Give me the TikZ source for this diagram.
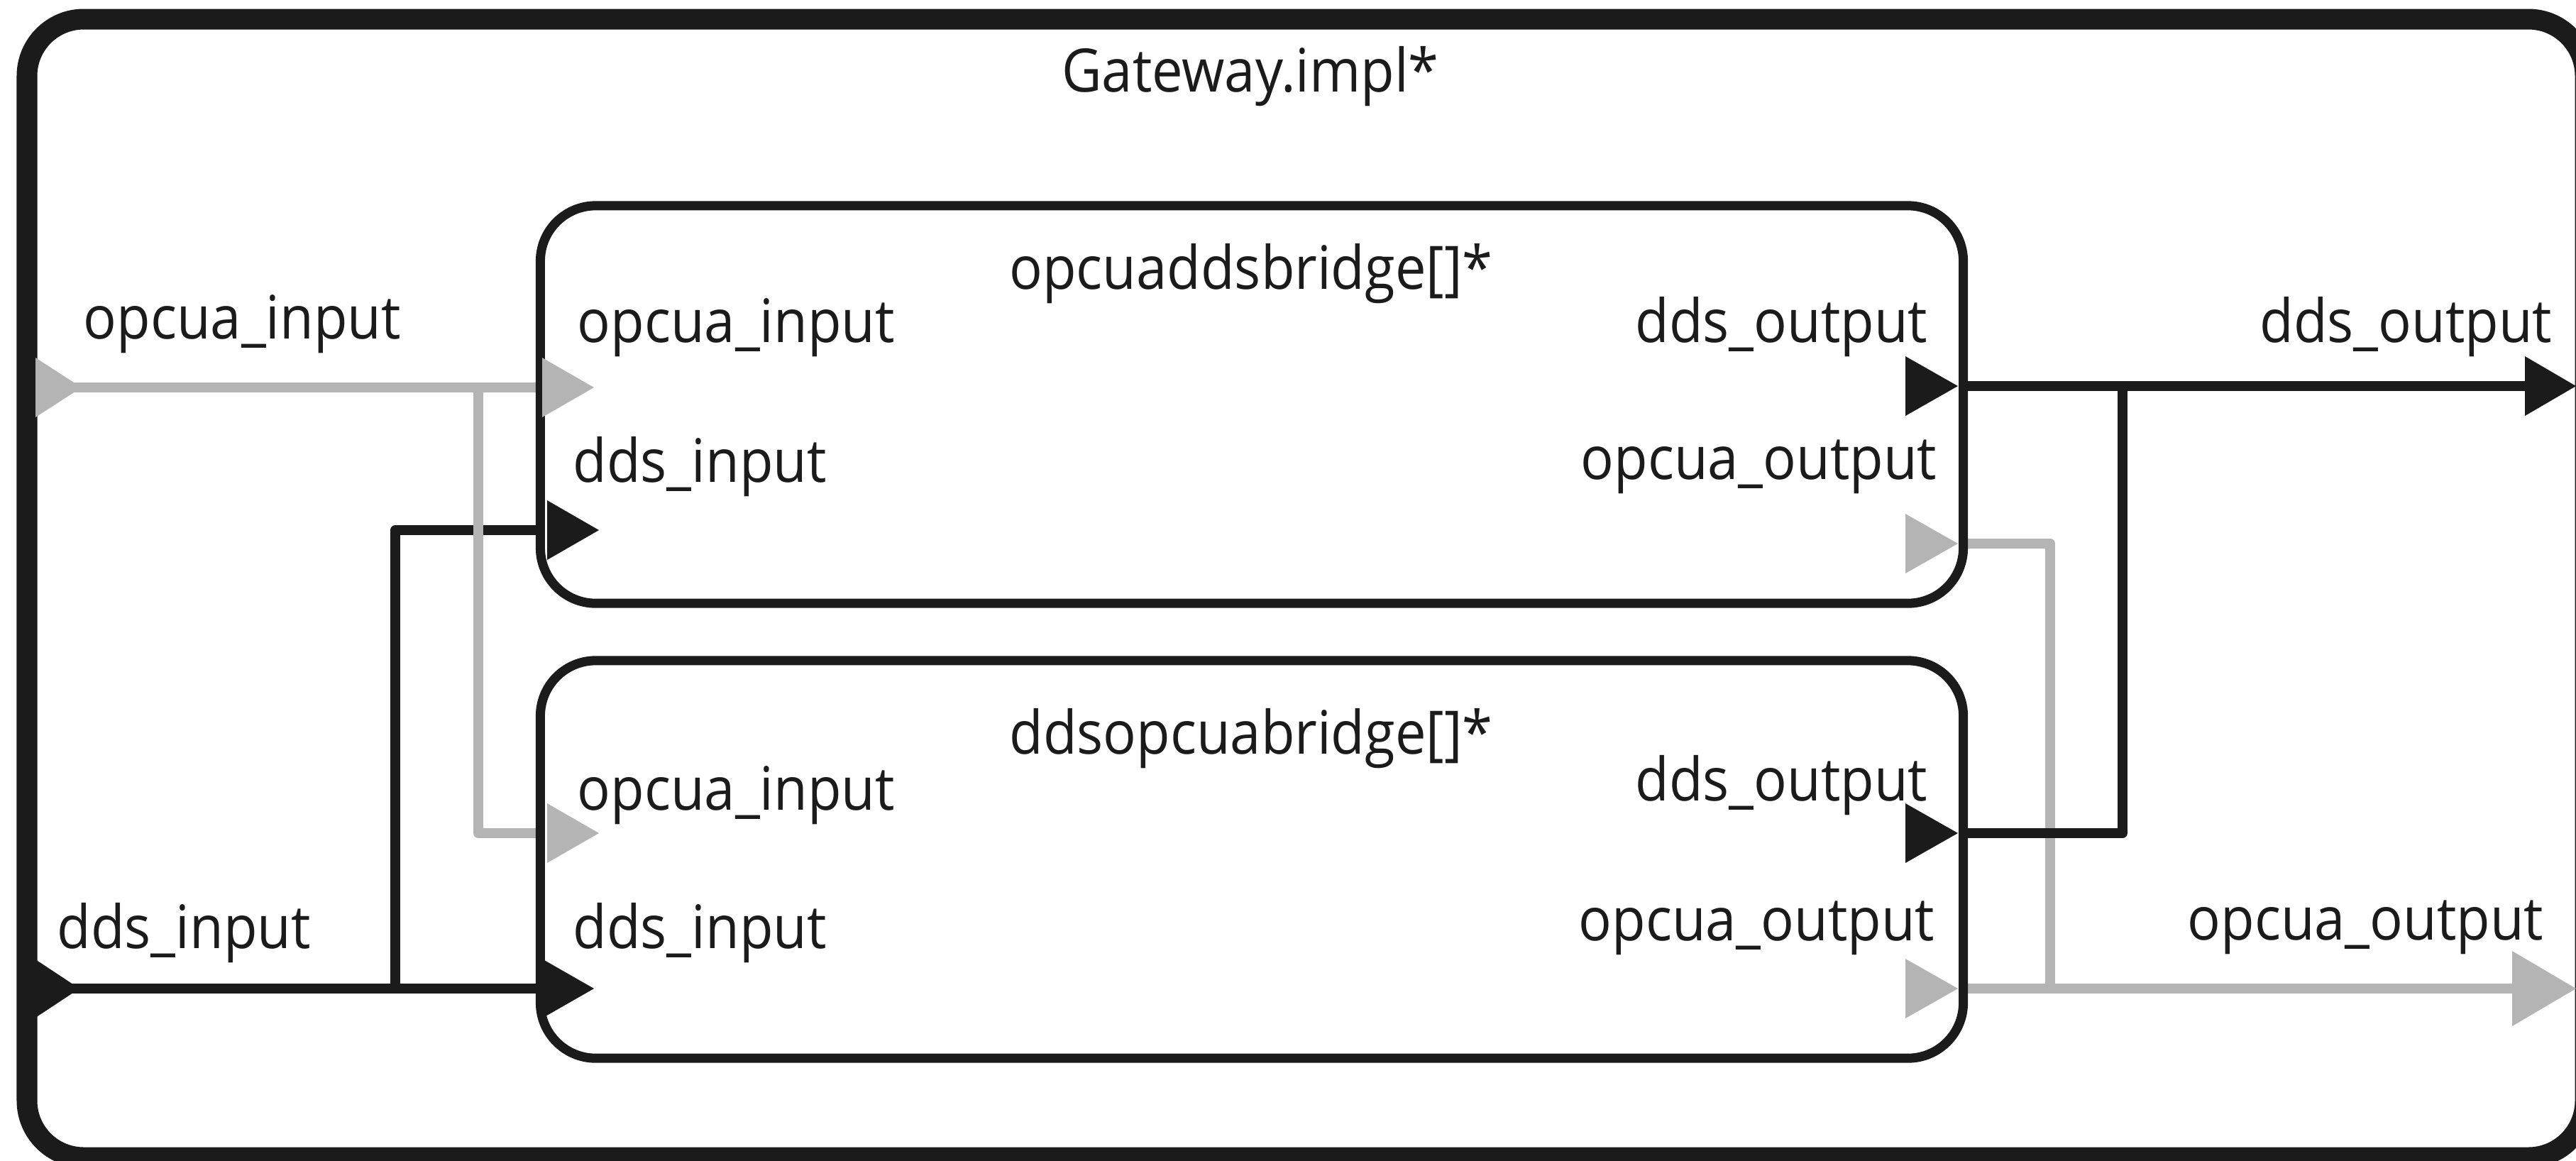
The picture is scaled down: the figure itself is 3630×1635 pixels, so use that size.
\documentclass[tikz,border=0pt]{standalone}
\usepackage{fontspec}
\setmainfont{Open Sans}[FakeStretch=0.92]
\definecolor{ink}{HTML}{1B1B1B}
\definecolor{opc}{HTML}{B4B4B4}
\begin{document}
\begin{tikzpicture}[x=0.01cm,y=-0.01cm, line join=round,
  frame/.style={draw=ink, line width=0.29cm, rounded corners=0.8cm},
  box/.style={rectangle, inner sep=0pt, outer sep=0pt, minimum width=20.04cm, minimum height=5.6cm},
  boxline/.style={draw=ink, line width=0.13cm, rounded corners=0.78cm},
  dds/.style={draw=ink, line width=0.14cm},
  opcua/.style={draw=opc, line width=0.14cm},
  lbl/.style={font=\fontsize{24}{28}\selectfont, text=ink, inner sep=0pt},
]
\useasboundingbox (0,0) rectangle (3630,1635);
\fill[white] (0,0) rectangle (3630,1635);
% outer frame
\draw[frame] (38,27) rectangle (3643,1631);
% boxes (named nodes, outline drawn after the connectors)
\node[box] (b1) at (1764,570) {};
\node[box] (b2) at (1764,1211) {};
% port tips
\coordinate (gOI) at (115,546);
\coordinate (gDI) at (112,1393);
\coordinate (gDO) at (3630,544);
\coordinate (gOO) at (3630,1393);
\coordinate (gOIb) at (60,546);
\coordinate (gDIb) at (60,1393);
\coordinate (gDOb) at (3570,544);
\coordinate (gOOb) at (3560,1393);
\coordinate (b1OI) at (837,546);
\coordinate (b1DI) at (844,747);
\coordinate (b2OI) at (844,1174);
\coordinate (b2DI) at (837,1393);
\coordinate (b1DO) at (2759,544);
\coordinate (b1OO) at (2759,766);
\coordinate (b2DO) at (2759,1174);
\coordinate (b2OO) at (2759,1393);
% junctions
\coordinate (jA) at (674,546);
\coordinate (jB) at (557,1393);
\coordinate (jC) at (2991,544);
\coordinate (jD) at (2889,1393);
% connectors
\draw[dds] (gDIb) -- (b2.west |- gDI);
\draw[dds] (jB) |- (b1.west |- b1DI);
\draw[opcua] (gOIb) -- (b1.west |- gOI);
\draw[opcua] (jA) |- (b2.west |- b2OI);
\draw[opcua] (b2.east |- b2OO) -- (gOOb);
\draw[opcua] (b1.east |- b1OO) -| (jD);
\draw[dds] (b1.east |- b1DO) -- (gDOb);
\draw[dds] (b2.east |- b2DO) -| (jC);
% box outlines
\draw[boxline] (b1.north west) rectangle (b1.south east);
\draw[boxline] (b2.north west) rectangle (b2.south east);
% port triangles
\fill[opc] (gOI) -- ++(-65,-42) -- ++(0,84) -- cycle;
\fill[ink] (gDI) -- ++(-62,-41) -- ++(0,82) -- cycle;
\fill[ink] (gDO) -- ++(-72,-42) -- ++(0,84) -- cycle;
\fill[opc] (gOO) -- ++(-90,-53) -- ++(0,106) -- cycle;
\fill[opc] (b1OI) -- ++(-73,-42) -- ++(0,84) -- cycle;
\fill[ink] (b1DI) -- ++(-73,-42) -- ++(0,84) -- cycle;
\fill[opc] (b2OI) -- ++(-73,-42) -- ++(0,84) -- cycle;
\fill[ink] (b2DI) -- ++(-70,-40) -- ++(0,80) -- cycle;
\fill[ink] (b1DO) -- ++(-74,-42) -- ++(0,84) -- cycle;
\fill[opc] (b1OO) -- ++(-74,-42) -- ++(0,84) -- cycle;
\fill[ink] (b2DO) -- ++(-74,-42) -- ++(0,84) -- cycle;
\fill[opc] (b2OO) -- ++(-74,-42) -- ++(0,84) -- cycle;
% labels
\node[lbl, anchor=base] (tG) at (1762,129) {Gateway.impl*};
\node[lbl, anchor=base] (t1) at (1763,407) {opcuaddsbridge[]*};
\node[lbl, anchor=base] (t2) at (1763,1062) {ddsopcuabridge[]*};
\node[lbl, anchor=base west] (tGOI) at (117,477) {opcua\_input};
\node[lbl, anchor=base west] (tGDI) at (80,1336) {dds\_input};
\node[lbl, anchor=base east] (tGDO) at (3597,482) {dds\_output};
\node[lbl, anchor=base east] (tGOO) at (3585,1324) {opcua\_output};
\node[lbl, anchor=base west] (t1OI) at (813,482) {opcua\_input};
\node[lbl, anchor=base west] (t1DI) at (807,679) {dds\_input};
\node[lbl, anchor=base east] (t1DO) at (2717,482) {dds\_output};
\node[lbl, anchor=base east] (t1OO) at (2730,675) {opcua\_output};
\node[lbl, anchor=base west] (t2OI) at (813,1141) {opcua\_input};
\node[lbl, anchor=base west] (t2DI) at (807,1336) {dds\_input};
\node[lbl, anchor=base east] (t2DO) at (2717,1128) {dds\_output};
\node[lbl, anchor=base east] (t2OO) at (2727,1325) {opcua\_output};
\end{tikzpicture}
\end{document}
